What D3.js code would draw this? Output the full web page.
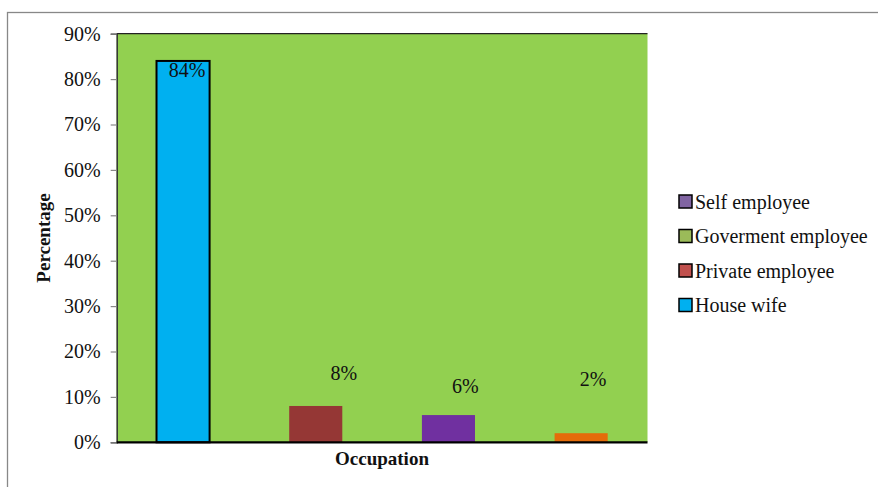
<!DOCTYPE html>
<html>
<head>
<meta charset="utf-8">
<script src="https://cdn.jsdelivr.net/npm/d3@7/dist/d3.min.js"></script>
<style>
  html, body { margin: 0; padding: 0; background: #fff; }
  svg text { font-family: "Liberation Serif", "DejaVu Serif", serif !important; }
</style>
</head>
<body>
<svg id="chart" width="878" height="487"></svg>
<script>
// Occupation breakdown
const categories = ["House wife", "Private employee", "Self employee", "Other"];
const values = [84, 8, 6, 2];
const barColors = ["#00B0F0", "#953735", "#7030A0", "#E46C0A"];
const yTicks = [0, 10, 20, 30, 40, 50, 60, 70, 80, 90];

const legendLabels = ["Self employee", "Goverment employee", "Private employee", "House wife"];
const legendColors = ["#8064A2", "#9BBB59", "#C0504D", "#00B0F0"];

// hand-placed value labels (dx from bar centre, baseline in px)
const labelNudge = [{dx: 4, y: 77}, {dx: 28, y: 380}, {dx: 17, y: 393}, {dx: 12, y: 386}];

const svg = d3.select("#chart");
const plot = {left: 116.7, top: 33.7, right: 647.5, bottom: 442.3};

// outer frame
svg.append("rect")
  .attr("x", 7.5).attr("y", 12.5)
  .attr("width", 900).attr("height", 500)
  .attr("fill", "#fff").attr("stroke", "#888").attr("stroke-width", 1.3);

const x = d3.scaleBand().domain(categories).range([plot.left, plot.right]).paddingInner(0.6).paddingOuter(0.3);
const y = d3.scaleLinear().domain([0, 90]).range([plot.bottom, plot.top]);

// plot background
svg.append("rect")
  .attr("x", plot.left).attr("y", plot.top)
  .attr("width", plot.right - plot.left).attr("height", plot.bottom - plot.top)
  .attr("fill", "#92D050");

// plot top edge
svg.append("path")
  .attr("d", `M${plot.left},${plot.top}H${plot.right}`)
  .attr("stroke", "#222").attr("stroke-width", 1.2).attr("fill", "none");

// bars
svg.selectAll("rect.bar").data(values).join("rect")
  .attr("class", "bar")
  .attr("x", (d, i) => x(categories[i]))
  .attr("width", x.bandwidth())
  .attr("y", d => y(d))
  .attr("height", d => y(0) - y(d))
  .attr("fill", (d, i) => barColors[i])
  .attr("stroke", (d, i) => i === 0 ? "#000" : "none")
  .attr("stroke-width", 2);

// y axis
const yAxis = d3.axisLeft(y).tickValues(yTicks).tickFormat(d => d + "%").tickSize(6).tickPadding(10);
const ga = svg.append("g").attr("transform", `translate(${plot.left},0)`).call(yAxis);
ga.select(".domain").attr("stroke", "#333").attr("stroke-width", 1.5);
ga.selectAll(".tick line").attr("stroke", "#888").attr("stroke-width", 1.2);
ga.selectAll(".tick text")
  .attr("font-size", 20).attr("fill", "#111");

// x axis baseline
svg.append("line")
  .attr("x1", plot.left).attr("x2", plot.right)
  .attr("y1", y(0)).attr("y2", y(0))
  .attr("stroke", "#000").attr("stroke-width", 2.2);

// value labels
svg.selectAll("text.val").data(values).join("text")
  .attr("class", "val")
  .attr("x", (d, i) => x(categories[i]) + x.bandwidth() / 2 + labelNudge[i].dx)
  .attr("y", (d, i) => labelNudge[i].y)
  .attr("text-anchor", "middle")
  .attr("font-size", 20).attr("fill", "#111")
  .text(d => d + "%");

// axis titles
svg.append("text")
  .attr("x", 382).attr("y", 465)
  .attr("text-anchor", "middle")
  .attr("font-size", 19).attr("font-weight", "bold").attr("fill", "#111")
  .text("Occupation");

svg.append("text")
  .attr("transform", `translate(50,238) rotate(-90)`)
  .attr("text-anchor", "middle")
  .attr("font-size", 19).attr("font-weight", "bold").attr("fill", "#111")
  .text("Percentage");

// legend
const lg = svg.append("g").attr("transform", "translate(679,0)");
const rows = lg.selectAll("g").data(legendLabels).join("g")
  .attr("transform", (d, i) => `translate(0,${201.5 + i * 34.5})`);
rows.append("rect")
  .attr("x", 0).attr("y", -6.5).attr("width", 13).attr("height", 13)
  .attr("fill", (d, i) => legendColors[i])
  .attr("stroke", "#000").attr("stroke-width", 1.5);
rows.append("text")
  .attr("x", 16).attr("y", 7)
  .attr("font-size", 20).attr("fill", "#111")
  .text(d => d);
</script>
</body>
</html>
